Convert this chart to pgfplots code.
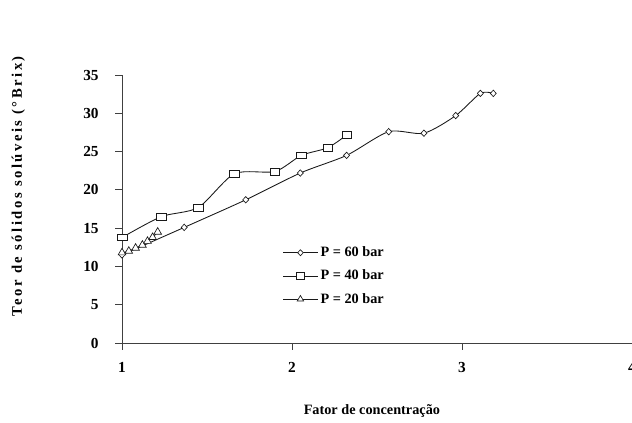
\documentclass[border=0pt]{standalone}
\usepackage{fontspec}
\setmainfont{Liberation Serif}
\usepackage{pgfplots}
\pgfplotsset{compat=1.18}
\begin{document}
\begin{tikzpicture}
\begin{axis}[
  scale only axis,
  width=382.5pt, height=201pt,
  xmin=1, xmax=4, ymin=0, ymax=35,
  axis lines=left,
  axis line style={-, black!75, line width=0.7pt},
  xtick={1,2,3,4}, ytick={0,5,...,35},
  tick align=outside,
  major tick length=5pt,
  tick style={black!75, line width=0.7pt},
  /pgf/number format/assume math mode=true,
  ticklabel style={font=\fontsize{11.5}{13}\selectfont\bfseries},
  xticklabel style={yshift=-6pt},
  yticklabel style={xshift=-9pt},
  xlabel={Fator de concentração},
  xlabel style={at={(axis description cs:0.49,-0.255)}, anchor=center, font=\fontsize{10.7}{12}\selectfont\bfseries},
  ylabel={\addfontfeatures{LetterSpace=17}Teor de sólidos solúveis (°Brix)},
  ylabel style={at={(axis description cs:-0.203,0.585)}, anchor=center, font=\fontsize{11}{12}\selectfont\bfseries},
  legend style={draw=none, fill=none, at={(axis description cs:0.315,0.37)}, anchor=north west,
    font=\fontsize{10.7}{12}\selectfont\bfseries, row sep=4.5pt, inner sep=0pt},
  legend cell align=left,
  legend image code/.code={\draw[mark repeat=2,mark phase=2,mark size=2.8pt] plot coordinates {(0cm,0cm)(0.45cm,0cm)(0.9cm,0cm)};},
  clip=false,
]
\coordinate (O) at (rel axis cs:0,0);
\addplot[black!90, line width=0.65pt, smooth, tension=0.45, mark=diamond*, mark size=3pt,
  mark options={fill=white, solid, yscale=0.8, line width=0.5pt}] coordinates {
  (1.00,11.5) (1.366,15.1) (1.728,18.7) (2.049,22.2) (2.321,24.5) (2.569,27.6)
  (2.776,27.4) (2.963,29.7) (3.108,32.6) (3.184,32.6)
};
\addlegendentry{P = 60 bar}
\addplot[black!90, line width=0.65pt, smooth, tension=0.45, mark=square*, mark size=3pt,
  mark options={fill=white, solid, xscale=1.15, yscale=0.85, line width=0.5pt}] coordinates {
  (1.002,13.8) (1.231,16.5) (1.449,17.7) (1.661,22.1) (1.90,22.4) (2.055,24.5)
  (2.21,25.5) (2.324,27.2)
};
\addlegendentry{P = 40 bar}
\addplot[black!90, line width=0.65pt, smooth, tension=0.45, mark=triangle*, mark size=3.3pt,
  mark options={fill=white, solid, line width=0.5pt}] coordinates {
  (1.00,11.8) (1.04,12.0) (1.08,12.4) (1.12,12.8) (1.15,13.3) (1.18,13.8) (1.21,14.5)
};
\addlegendentry{P = 20 bar}
\end{axis}
\pgfresetboundingbox
\path[use as bounding box] ([shift={(-91.5pt,-59.25pt)}]O) rectangle ++(474pt,316.5pt);
\end{tikzpicture}
\end{document}
